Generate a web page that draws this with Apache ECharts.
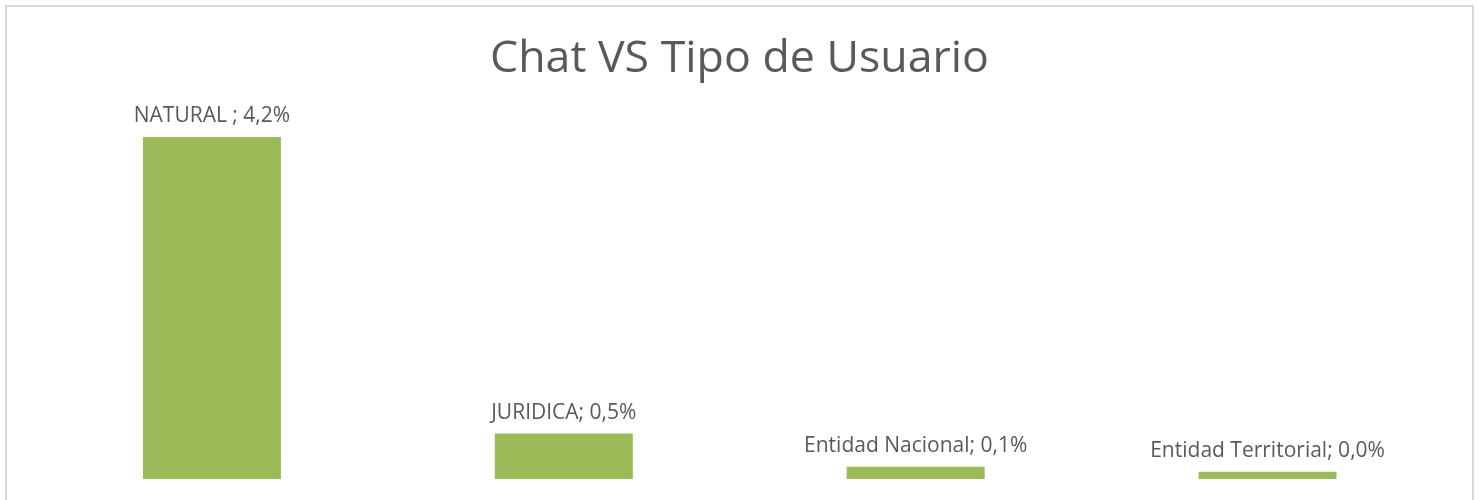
<!DOCTYPE html>
<html>
<head>
<meta charset="utf-8">
<script src="https://cdn.jsdelivr.net/npm/echarts@6/dist/echarts.min.js"></script>
<style>
html,body{margin:0;padding:0;background:#fff;}
#chart{width:1479px;height:500px;}
</style>
</head>
<body>
<div id="chart"></div>
<script>
const categories = ["NATURAL ", "JURIDICA", "Entidad Nacional", "Entidad Territorial"];
const values = [4.2, 0.56, 0.15, 0.09];
const displayPercent = ["4,2%", "0,5%", "0,1%", "0,0%"];

const chart = echarts.init(document.getElementById('chart'));
chart.setOption({
  animation: false,
  backgroundColor: '#fff',
  title: {
    text: 'Chat VS Tipo de Usuario',
    left: 'center',
    top: 32,
    textStyle: {fontFamily: 'Open Sans', fontSize: 44.7, fontWeight: 'normal', color: '#595959'}
  },
  graphic: [{
    type: 'rect',
    shape: {x: 6, y: 6, width: 1467, height: 600},
    style: {fill: 'none', stroke: '#d9d9d9', lineWidth: 2},
    silent: true
  }],
  grid: {left: 36, right: 35.5, top: 137, bottom: 21},
  xAxis: {
    type: 'category',
    data: categories,
    axisLine: {show: false},
    axisTick: {show: false},
    axisLabel: {show: false}
  },
  yAxis: {
    type: 'value',
    min: 0,
    max: 4.2,
    show: false,
    splitLine: {show: false}
  },
  series: [{
    type: 'bar',
    data: values,
    barWidth: 138,
    itemStyle: {color: '#9BBB59'},
    label: {
      show: true,
      position: 'top',
      distance: 10,
      fontFamily: 'Open Sans',
      fontSize: 21,
      color: '#595959',
      formatter: p => p.name + '; ' + displayPercent[p.dataIndex]
    }
  }]
});
</script>
</body>
</html>
